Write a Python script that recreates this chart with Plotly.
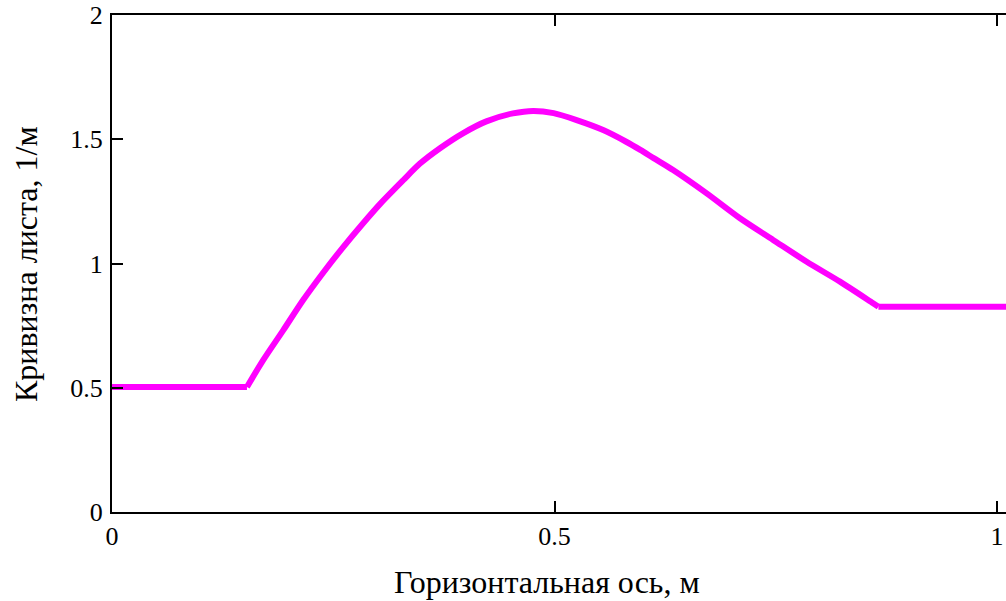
import plotly.graph_objects as go

# Curvature of the sheet vs horizontal coordinate
x_left = [0.0, 0.1525]
curv_left = [0.503, 0.503]

x_mid = [0.1525, 0.171, 0.1936, 0.216, 0.239, 0.261, 0.284, 0.303, 0.329, 0.348,
         0.371, 0.397, 0.423, 0.453, 0.476, 0.499, 0.525, 0.555, 0.581, 0.597, 0.612,
         0.634, 0.672, 0.7096, 0.747, 0.785, 0.8226, 0.860, 0.866]
curv_mid = [0.503, 0.612, 0.732, 0.853, 0.965, 1.065, 1.163, 1.240, 1.335, 1.402,
            1.465, 1.525, 1.572, 1.604, 1.614, 1.605, 1.577, 1.537, 1.490, 1.457, 1.424,
            1.376, 1.282, 1.182, 1.095, 1.007, 0.927, 0.840, 0.826]

x_right = [0.866, 1.02]
curv_right = [0.826, 0.826]

x_ticks = [0, 0.5, 1]
x_tick_text = ["0", "0.5", "1"]
y_ticks = [0, 0.5, 1, 1.5, 2]
y_tick_text = ["0", "0.5", "1", "1.5", "2"]

x_title = "Горизонтальная ось, м"
y_title = "Кривизна листа, 1/м"

W, H = 1006, 601
L, T, R, B = 112, 15, 0, 89
plot_w = W - L - R
px_per_unit = 885.0

fig = go.Figure()
line_style = dict(color="#FF00FF", width=6)
fig.add_trace(go.Scatter(x=x_left, y=curv_left, mode="lines", line=line_style,
                         hoverinfo="skip", showlegend=False))
fig.add_trace(go.Scatter(x=x_mid, y=curv_mid, mode="lines",
                         line=dict(color="#FF00FF", width=6, shape="spline", smoothing=0.8),
                         hoverinfo="skip", showlegend=False))
fig.add_trace(go.Scatter(x=x_right, y=curv_right, mode="lines", line=line_style,
                         hoverinfo="skip", showlegend=False))

font = "Liberation Serif, Times New Roman, serif"
tick_size = 26

fig.update_layout(
    width=W, height=H,
    margin=dict(l=L, r=R, t=T, b=B, pad=0),
    paper_bgcolor="white", plot_bgcolor="white",
    font=dict(family=font, color="black", size=tick_size),
    xaxis=dict(
        range=[0, plot_w / px_per_unit],
        tickmode="array", tickvals=x_ticks, ticktext=x_tick_text,
        ticks="inside", ticklen=11, tickwidth=2, tickcolor="black",
        showline=True, linecolor="black", linewidth=2, mirror="ticks",
        showgrid=False, zeroline=False,
        tickfont=dict(family=font, size=tick_size, color="black"),
    ),
    yaxis=dict(
        range=[0, 2],
        tickmode="array", tickvals=y_ticks, ticktext=y_tick_text,
        ticks="inside", ticklen=11, tickwidth=2, tickcolor="black",
        showline=True, linecolor="black", linewidth=2, mirror=False,
        showgrid=False, zeroline=False,
        tickfont=dict(family=font, size=tick_size, color="black"),
        ticklabelstandoff=2,
    ),
    annotations=[
        dict(text=x_title, xref="paper", yref="paper",
             x=(547 - L) / plot_w, y=(512 - 582) / 497.0,
             xanchor="center", yanchor="middle", showarrow=False, borderpad=0,
             font=dict(family=font, size=32, color="black")),
        dict(text=y_title, xref="paper", yref="paper",
             x=(26 - L) / plot_w, y=(512 - 264) / 497.0,
             xanchor="center", yanchor="middle", showarrow=False, textangle=-90,
             font=dict(family=font, size=32, color="black")),
    ],
)

fig.write_html("out.html")
